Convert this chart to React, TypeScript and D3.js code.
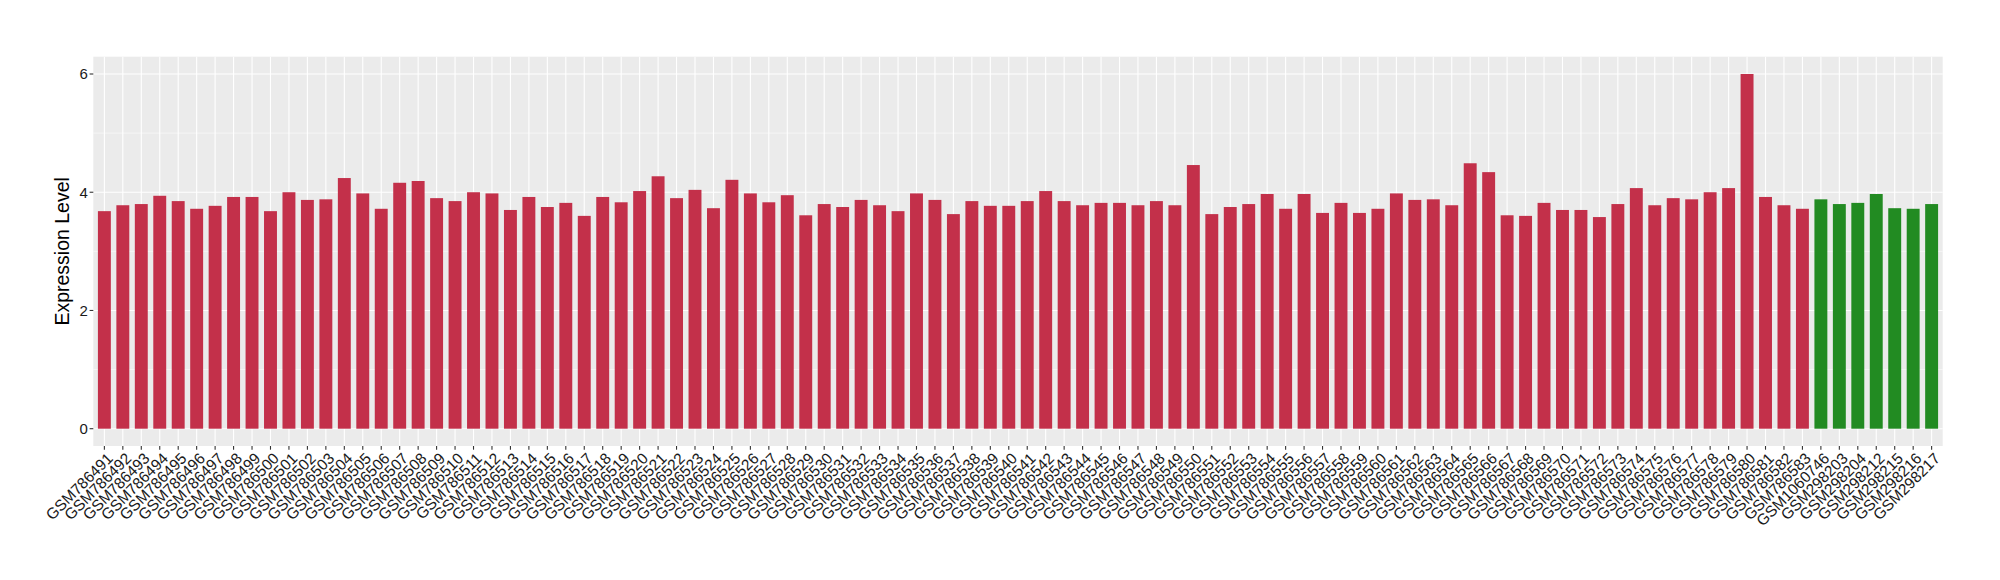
import React from "react";
import * as d3 from "d3";

const redSamples = [
  "GSM786491","GSM786492","GSM786493","GSM786494","GSM786495","GSM786496","GSM786497","GSM786498","GSM786499","GSM786500",
  "GSM786501","GSM786502","GSM786503","GSM786504","GSM786505","GSM786506","GSM786507","GSM786508","GSM786509","GSM786510",
  "GSM786511","GSM786512","GSM786513","GSM786514","GSM786515","GSM786516","GSM786517","GSM786518","GSM786519","GSM786520",
  "GSM786521","GSM786522","GSM786523","GSM786524","GSM786525","GSM786526","GSM786527","GSM786528","GSM786529","GSM786530",
  "GSM786531","GSM786532","GSM786533","GSM786534","GSM786535","GSM786536","GSM786537","GSM786538","GSM786539","GSM786540",
  "GSM786541","GSM786542","GSM786543","GSM786544","GSM786545","GSM786546","GSM786547","GSM786548","GSM786549","GSM786550",
  "GSM786551","GSM786552","GSM786553","GSM786554","GSM786555","GSM786556","GSM786557","GSM786558","GSM786559","GSM786560",
  "GSM786561","GSM786562","GSM786563","GSM786564","GSM786565","GSM786566","GSM786567","GSM786568","GSM786569","GSM786570",
  "GSM786571","GSM786572","GSM786573","GSM786574","GSM786575","GSM786576","GSM786577","GSM786578","GSM786579","GSM786580",
  "GSM786581","GSM786582","GSM786583"
];
const redValues = [
  3.68,3.78,3.80,3.94,3.85,3.72,3.77,3.92,3.92,3.68,
  4.00,3.87,3.88,4.24,3.98,3.72,4.16,4.19,3.90,3.85,
  4.00,3.98,3.70,3.92,3.75,3.82,3.60,3.92,3.83,4.02,
  4.27,3.90,4.04,3.73,4.21,3.98,3.83,3.95,3.61,3.80,
  3.75,3.87,3.78,3.68,3.98,3.87,3.63,3.85,3.77,3.77,
  3.85,4.02,3.85,3.78,3.82,3.82,3.78,3.85,3.78,4.46,
  3.63,3.75,3.80,3.97,3.72,3.97,3.65,3.82,3.65,3.72,
  3.98,3.87,3.88,3.78,4.49,4.34,3.61,3.60,3.82,3.70,
  3.70,3.58,3.80,4.07,3.78,3.90,3.88,4.00,4.07,6.00,
  3.92,3.78,3.72
];
const greenSamples = ["GSM1060746","GSM298203","GSM298204","GSM298212","GSM298215","GSM298216","GSM298217"];
const greenValues = [3.88,3.80,3.82,3.97,3.73,3.72,3.80];

const yTicks = [0, 2, 4, 6];
const yMinor = [1, 3, 5];
const yTitle = "Expression Level";

const RED = "#C3304A";
const GREEN = "#228B22";
const FONT = "'Liberation Sans', Arial, Helvetica, sans-serif";

export default function App() {
  const W = 2000, H = 580;
  const panel = { left: 93.3, right: 1942.7, top: 56.7, bottom: 446 };
  const rows = [
    ...redSamples.map((s, i) => ({ s, v: redValues[i], c: RED })),
    ...greenSamples.map((s, i) => ({ s, v: greenValues[i], c: GREEN })),
  ];
  const names = rows.map((r) => r.s);
  const n = names.length;
  const step = (panel.right - panel.left) / (n - 1 + 1.2);
  const x = d3
    .scalePoint<string>()
    .domain(names)
    .range([panel.left + 0.6 * step, panel.right - 0.6 * step]);
  const y = d3.scaleLinear().domain([0, 6]).range([428.7, 74]);
  const bw = step * 0.7;

  return (
    <svg width={W} height={H} style={{ position: "absolute", left: 0, top: 0, background: "#fff" }} fontFamily={FONT}>
      <rect x={panel.left} y={panel.top} width={panel.right - panel.left} height={panel.bottom - panel.top} fill="#EBEBEB" />
      {yMinor.map((t) => (
        <line key={"mi" + t} x1={panel.left} x2={panel.right} y1={y(t)} y2={y(t)} stroke="#fff" strokeWidth={0.55} />
      ))}
      {yTicks.map((t) => (
        <line key={"ma" + t} x1={panel.left} x2={panel.right} y1={y(t)} y2={y(t)} stroke="#fff" strokeWidth={1.1} />
      ))}
      {names.map((s) => (
        <line key={"v" + s} x1={x(s)} x2={x(s)} y1={panel.top} y2={panel.bottom} stroke="#fff" strokeWidth={1.1} />
      ))}
      {rows.map((r) => (
        <rect key={"b" + r.s} x={(x(r.s) as number) - bw / 2} y={y(r.v)} width={bw} height={y(0) - y(r.v)} fill={r.c} />
      ))}
      {yTicks.map((t) => (
        <g key={"yt" + t}>
          <line x1={panel.left - 3.7} x2={panel.left} y1={y(t)} y2={y(t)} stroke="#333" strokeWidth={1.1} />
          <text x={panel.left - 5.5} y={y(t)} dy="0.36em" textAnchor="end" fontSize={15} fill="#1a1a1a">
            {t}
          </text>
        </g>
      ))}
      {names.map((s) => (
        <g key={"xt" + s}>
          <line x1={x(s)} x2={x(s)} y1={panel.bottom} y2={panel.bottom + 3.7} stroke="#333" strokeWidth={1.1} />
          <text
            transform={`translate(${(x(s) as number) + 1.5},${panel.bottom + 5.5}) rotate(-45)`}
            textAnchor="end"
            dy="0.72em"
            fontSize={15.5}
            fill="#1a1a1a"
          >
            {s}
          </text>
        </g>
      ))}
      <text
        transform={`translate(68.5,${(panel.top + panel.bottom) / 2}) rotate(-90)`}
        textAnchor="middle"
        fontSize={19.5}
        fill="#000"
      >
        {yTitle}
      </text>
    </svg>
  );
}
